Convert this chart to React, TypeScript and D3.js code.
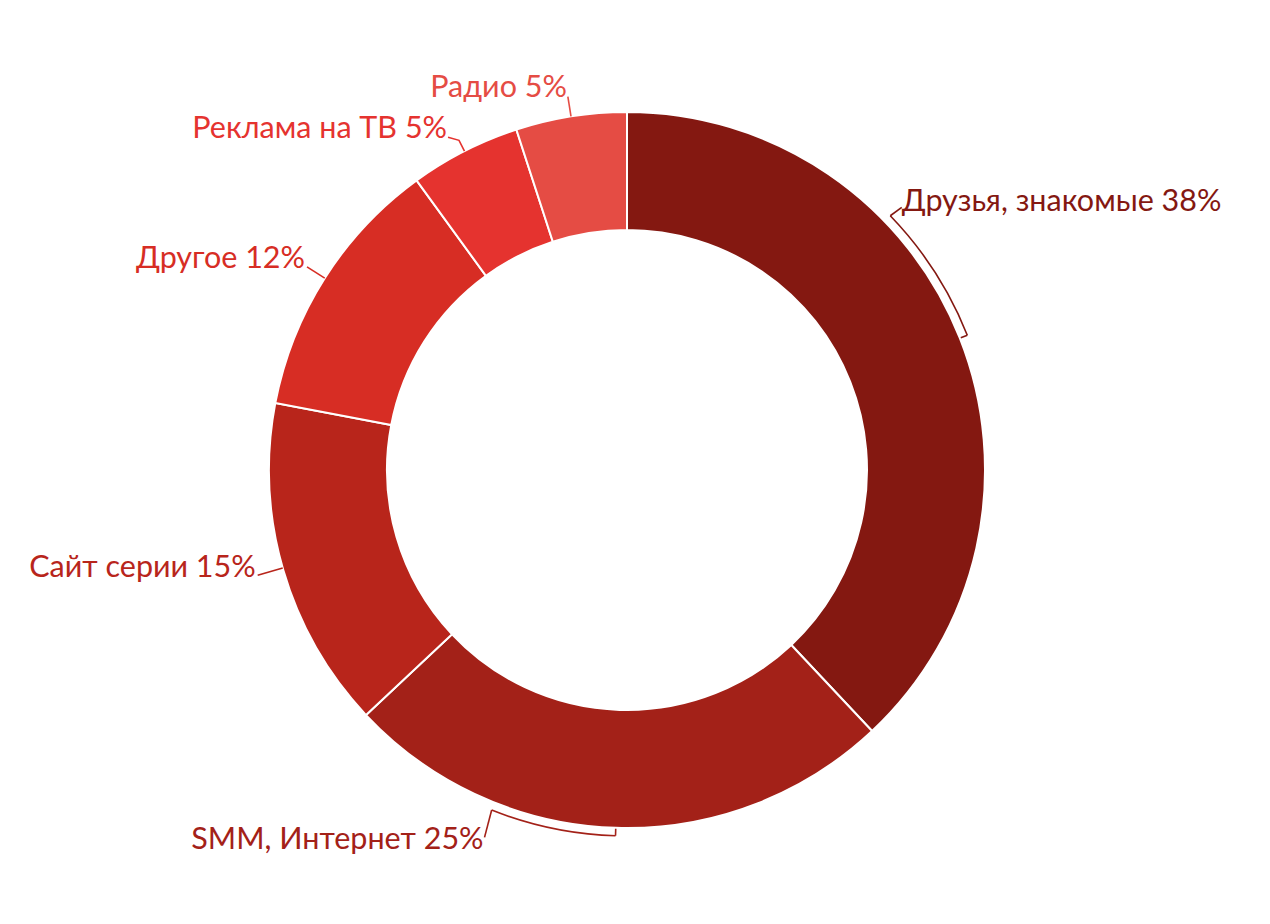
import React, { useEffect, useRef } from "react";
import * as d3 from "d3";

const categories = ["Друзья, знакомые", "SMM, Интернет", "Сайт серии", "Другое", "Реклама на ТВ", "Радио"];
const values = [38, 25, 15, 12, 5, 5];
const colors = ["#841811", "#a32118", "#b8251b", "#d72d24", "#e5332f", "#e54c44"];

// label layout (angles in degrees, clockwise from 12 o'clock)
const labelLayout = [
  { kind: "bracket", endAngle: 46, labelAngle: 46.3, labelR: 380, dy: 4, anchor: "start", dx: 0 },
  { kind: "bracket", endAngle: 201.7, labelAngle: 201.2, labelR: 394, dy: 12, anchor: "end", dx: -1 },
  { kind: "radial", tickAngle: 254.1, labelR: 384, dy: 2, anchor: "end", dx: -2 },
  { kind: "radial", tickAngle: 302.4, labelR: 379, dy: 1, anchor: "end", dx: -2 },
  { kind: "bend", tickAngle: 333, labelR: 370, hx: -11, dy: 1, anchor: "end", dx: -1 },
  { kind: "radial", tickAngle: 351, labelR: 378, dy: 0, anchor: "end", dx: -1 },
];

const W = 1270;
const H = 924;
const CX = 627;
const CY = 470;
const OUTER = 358;
const INNER = 240;
const BRACKET_R = 366;

const rad = (deg: number) => (deg * Math.PI) / 180;
const polar = (a: number, r: number): [number, number] => [r * Math.sin(a), -r * Math.cos(a)];

export default function App() {
  const ref = useRef<SVGSVGElement>(null);

  useEffect(() => {
    const svg = d3.select(ref.current);
    svg.selectAll("*").remove();
    const g = svg.append("g").attr("transform", `translate(${CX},${CY})`);

    const data = categories.map((c, i) => ({ name: c, value: values[i], color: colors[i], layout: labelLayout[i] }));
    const pie = d3.pie<any>().value((d) => d.value).sort(null).startAngle(0).endAngle(2 * Math.PI);
    const arcs = pie(data);
    const arc = d3.arc<any>().innerRadius(INNER).outerRadius(OUTER);

    g.selectAll("path.slice")
      .data(arcs)
      .join("path")
      .attr("class", "slice")
      .attr("d", arc as any)
      .attr("fill", (d) => d.data.color)
      .attr("stroke", "#ffffff")
      .attr("stroke-width", 2);

    const line = d3.line();
    arcs.forEach((d) => {
      const L = d.data.layout;
      const color = d.data.color;
      let labelPt: [number, number];
      if (L.kind === "bracket") {
        const mid = (d.startAngle + d.endAngle) / 2;
        const end = rad(L.endAngle);
        const a0 = Math.min(mid, end);
        const a1 = Math.max(mid, end);
        const bracket = d3.arc()({ innerRadius: BRACKET_R, outerRadius: BRACKET_R, startAngle: a0, endAngle: a1 } as any) as string;
        const firstSeg = bracket.split("L")[0];
        const serifIn = polar(mid, BRACKET_R - 7);
        const serifOut = polar(mid, BRACKET_R);
        const bEnd = polar(end, BRACKET_R);
        labelPt = polar(rad(L.labelAngle), L.labelR);
        [firstSeg, line([serifIn, serifOut]) as string, line([bEnd, labelPt]) as string].forEach((p) =>
          g.append("path").attr("d", p).attr("fill", "none").attr("stroke", color).attr("stroke-width", 1.6)
        );
      } else {
        const a = rad(L.tickAngle);
        const p0 = polar(a, OUTER);
        const p1 = polar(a, L.labelR);
        const pts: [number, number][] = [p0, p1];
        if (L.kind === "bend") pts.push([p1[0] + L.hx, p1[1] - 3]);
        labelPt = pts[pts.length - 1];
        g.append("path")
          .attr("d", line(pts) as string)
          .attr("fill", "none")
          .attr("stroke", color)
          .attr("stroke-width", 1.6);
      }
      g.append("text")
        .attr("x", labelPt[0] + L.dx)
        .attr("y", labelPt[1] + L.dy)
        .attr("text-anchor", L.anchor)
        .attr("fill", color)
        .style("font-family", "Lato, 'Open Sans', sans-serif")
        .style("font-size", "30.5px")
        .text(`${d.data.name} ${d.data.value}%`);
    });
  }, []);

  return (
    <svg ref={ref} width={W} height={H} style={{ position: "absolute", left: 0, top: 0, background: "#fff" }} />
  );
}
